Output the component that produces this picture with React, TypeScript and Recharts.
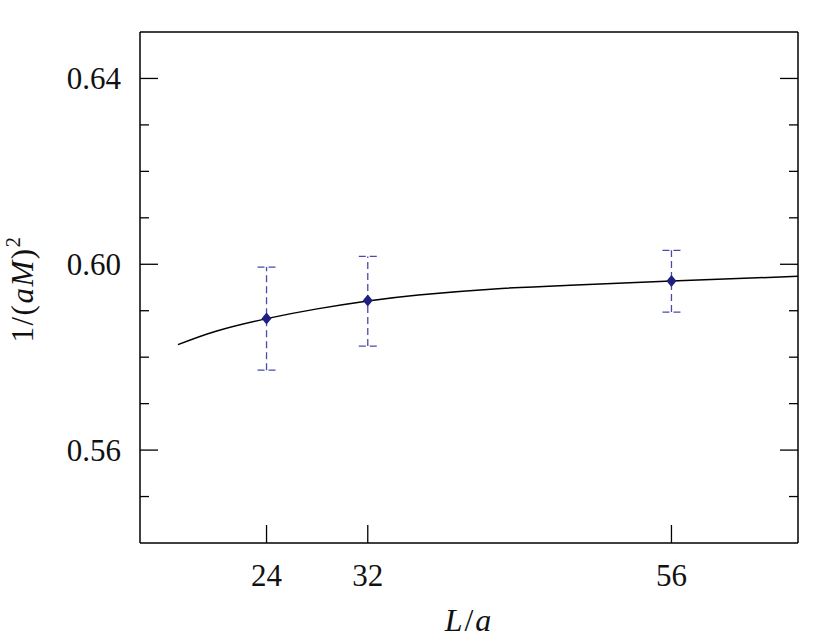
import React from 'react';
import { ComposedChart, Line, Scatter, ErrorBar, XAxis, YAxis } from 'recharts';

// measured points
const latticeL = [24, 32, 56];
const invMass2 = [0.5883, 0.5922, 0.5964];
const upperVal = [0.5994, 0.6017, 0.6030];
const lowerVal = [0.5772, 0.5824, 0.5897];

// fit curve
const fitL = [17, 20, 24, 28, 32, 36, 42, 48, 56, 66];
const fitValue = [0.5827, 0.5856, 0.5883, 0.5904, 0.5921, 0.5934, 0.5947, 0.5955, 0.5964, 0.5974];

const xTicks = [24, 32, 56];
const yTicks = [0.55, 0.56, 0.57, 0.58, 0.59, 0.6, 0.61, 0.62, 0.63, 0.64];
const yLabels = [0.56, 0.6, 0.64];

const W = 830;
const H = 641;
const PLOT_LEFT = 140;
const PLOT_RIGHT = 798;
const PLOT_TOP = 32;
const PLOT_BOTTOM = 543;
const MAJOR = 18;
const MINOR = 9;
const FONT = '"Liberation Serif", serif';
const ERR_COLOR = '#4b4ba8';
const DOT_COLOR = '#202080';

const points = latticeL.map((L, i) => ({
  L,
  value: invMass2[i],
  err: [invMass2[i] - lowerVal[i], upperVal[i] - invMass2[i]],
}));

const fitData = fitL.map((L, i) => ({ L, value: fitValue[i] }));

const isMajor = (v: number) => yLabels.some((m) => Math.abs(m - v) < 1e-6);

const LeftTick = (props: any) => {
  const { y, payload } = props;
  const major = isMajor(payload.value);
  return (
    <g>
      <line x1={PLOT_LEFT} x2={PLOT_LEFT + (major ? MAJOR : MINOR)} y1={y} y2={y} stroke="#000" strokeWidth={1.3} />
      {major && (
        <text x={PLOT_LEFT - 19} y={y + 11} textAnchor="end" fontSize={31} fontFamily={FONT} fill="#111">
          {payload.value.toFixed(2)}
        </text>
      )}
    </g>
  );
};

const RightTick = (props: any) => {
  const { y, payload } = props;
  const major = isMajor(payload.value);
  return (
    <line x1={PLOT_RIGHT - (major ? MAJOR : MINOR)} x2={PLOT_RIGHT} y1={y} y2={y} stroke="#000" strokeWidth={1.3} />
  );
};

const BottomTick = (props: any) => {
  const { x, payload } = props;
  return (
    <g>
      <line x1={x} x2={x} y1={PLOT_BOTTOM} y2={PLOT_BOTTOM - MAJOR} stroke="#000" strokeWidth={1.3} />
      <text x={x} y={PLOT_BOTTOM + 43} textAnchor="middle" fontSize={31} fontFamily={FONT} fill="#111">
        {payload.value}
      </text>
    </g>
  );
};

const TopTick = (props: any) => {
  const { x } = props;
  return <line x1={x} x2={x} y1={PLOT_TOP} y2={PLOT_TOP + MAJOR} stroke="#000" strokeWidth={1.3} />;
};

const XTitle = () => (
  <text
    x={(PLOT_LEFT + PLOT_RIGHT) / 2}
    y={631}
    textAnchor="middle"
    fontSize={32}
    letterSpacing={2}
    fontFamily={FONT}
    fill="#111"
  >
    <tspan fontStyle="italic">L</tspan>
    <tspan>/</tspan>
    <tspan fontStyle="italic">a</tspan>
  </text>
);

const YTitle = () => (
  <text
    x={33}
    y={289}
    transform="rotate(-90, 33, 289)"
    textAnchor="middle"
    fontSize={31}
    letterSpacing={1.5}
    fontFamily={FONT}
    fill="#111"
  >
    <tspan>1/(</tspan>
    <tspan fontStyle="italic">aM</tspan>
    <tspan>)</tspan>
    <tspan dy={-13} fontSize={21}>2</tspan>
  </text>
);

const Diamond = (props: any) => {
  const { cx, cy } = props;
  return (
    <polygon
      points={`${cx},${cy - 6} ${cx + 5},${cy} ${cx},${cy + 6} ${cx - 5},${cy}`}
      fill={DOT_COLOR}
    />
  );
};

export default function App() {
  return (
    <div style={{ position: 'absolute', left: 0, top: 0, width: W, height: H, background: '#fff' }}>
      <ComposedChart
        width={W}
        height={H}
        margin={{ top: 30, right: 30, bottom: 38, left: 60 }}
      >
        <XAxis
          xAxisId="bottom"
          dataKey="L"
          type="number"
          domain={[14, 66]}
          ticks={xTicks}
          interval={0}
          allowDataOverflow
          height={60}
          tickLine={false}
          axisLine={{ stroke: '#000', strokeWidth: 1.5 }}
          tick={BottomTick}
          label={<XTitle />}
        />
        <XAxis
          xAxisId="top"
          orientation="top"
          type="number"
          domain={[14, 66]}
          ticks={xTicks}
          interval={0}
          allowDataOverflow
          height={2}
          tickLine={false}
          axisLine={{ stroke: '#000', strokeWidth: 1.5 }}
          tick={TopTick}
        />
        <YAxis
          yAxisId="left"
          type="number"
          domain={[0.54, 0.65]}
          ticks={yTicks}
          interval={0}
          allowDataOverflow
          width={80}
          tickLine={false}
          axisLine={{ stroke: '#000', strokeWidth: 1.5 }}
          tick={LeftTick}
          label={<YTitle />}
        />
        <YAxis
          yAxisId="right"
          orientation="right"
          type="number"
          domain={[0.54, 0.65]}
          ticks={yTicks}
          interval={0}
          allowDataOverflow
          width={2}
          tickLine={false}
          axisLine={{ stroke: '#000', strokeWidth: 1.5 }}
          tick={RightTick}
        />
        <Line
          xAxisId="bottom"
          yAxisId="left"
          data={fitData}
          dataKey="value"
          type="natural"
          stroke="#000"
          strokeWidth={1.5}
          dot={false}
          activeDot={false}
          isAnimationActive={false}
        />
        <Scatter
          xAxisId="bottom"
          yAxisId="left"
          data={points}
          dataKey="value"
          shape={Diamond}
          isAnimationActive={false}
        >
          <ErrorBar
            dataKey="err"
            direction="y"
            width={9}
            stroke={ERR_COLOR}
            strokeWidth={1.3}
            strokeDasharray="7 4"
            isAnimationActive={false}
          />
        </Scatter>
      </ComposedChart>
    </div>
  );
}
